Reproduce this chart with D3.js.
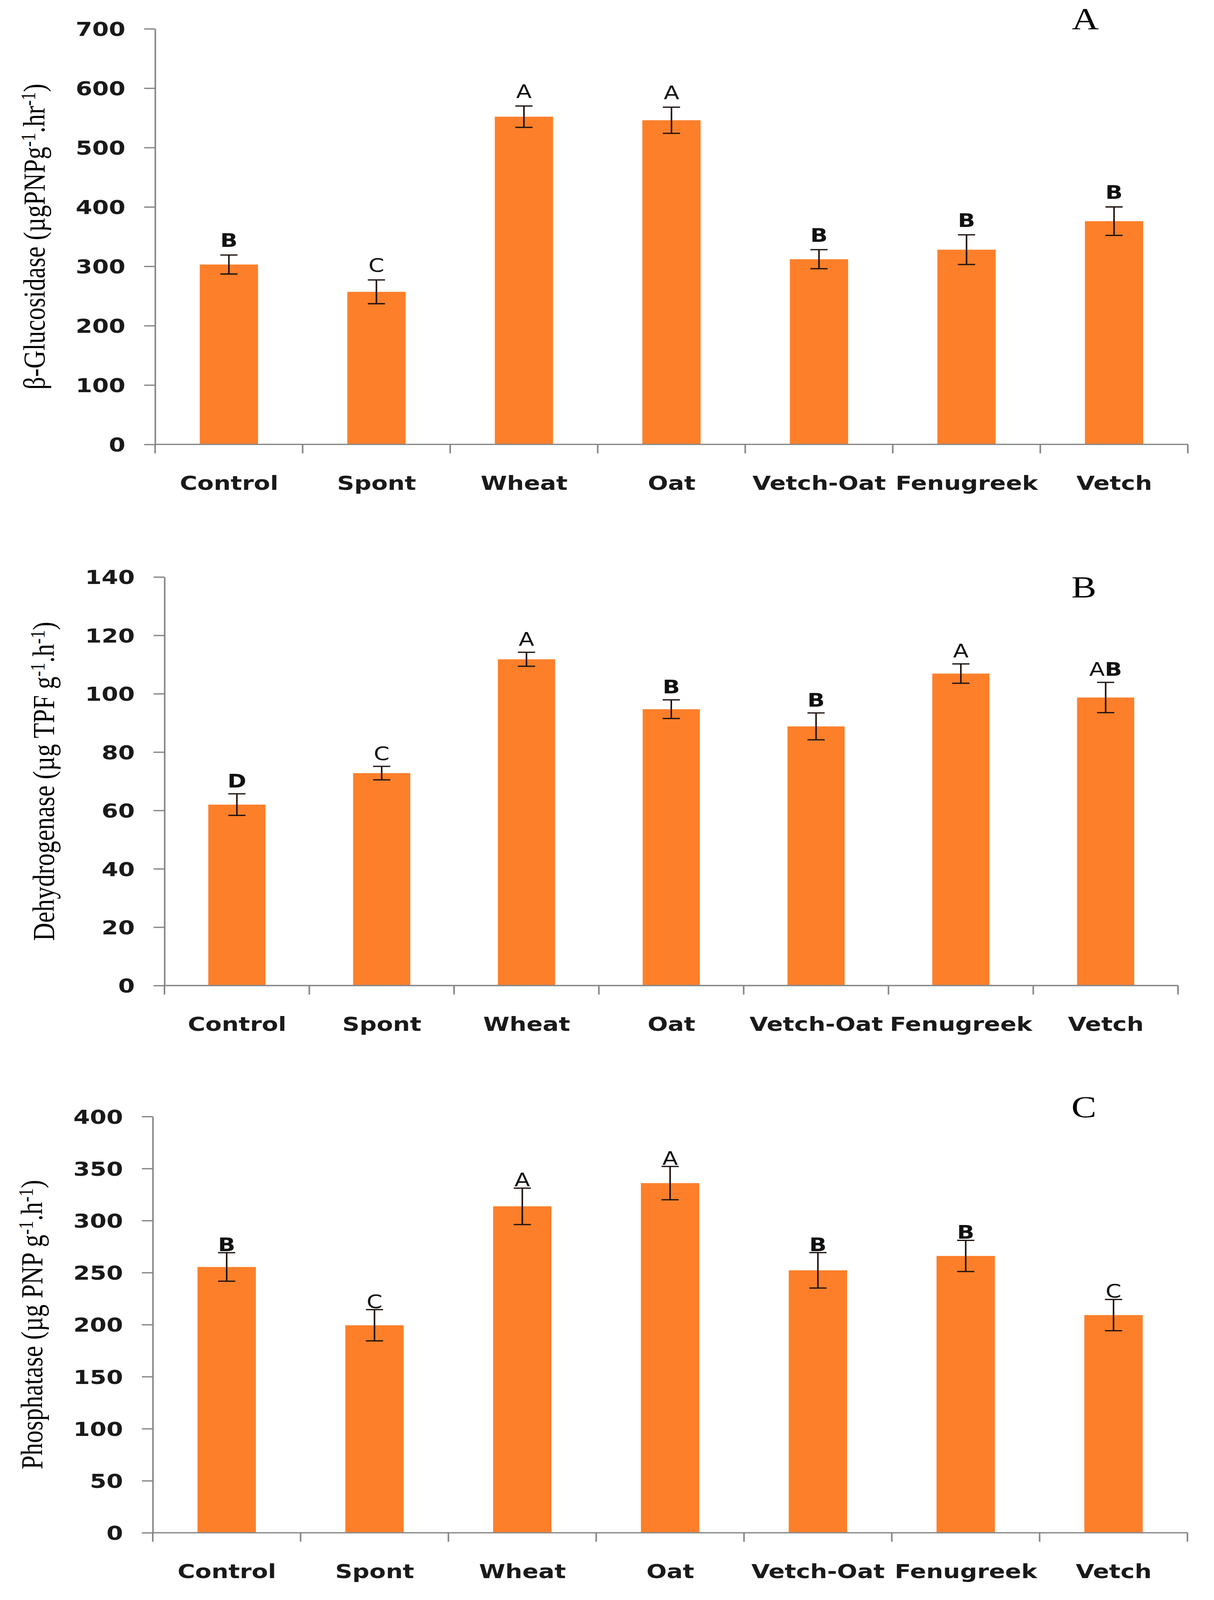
<!DOCTYPE html>
<html>
<head>
<meta charset="utf-8">
<script src="https://cdn.jsdelivr.net/npm/d3@7"></script>
<style>
  html, body { margin: 0; padding: 0; background: #ffffff; overflow: hidden; }
  svg { display: block; width: 100vw; height: 100vh; }
</style>
</head>
<body>
<svg id="chart" viewBox="0 0 3107 4997" preserveAspectRatio="none"></svg>
<script>
// ---------------- DATA ----------------
const categories = ["Control", "Spont", "Wheat", "Oat", "Vetch-Oat", "Fenugreek", "Vetch"];

const glucosidaseValues  = [303, 257, 552, 546, 312, 328, 376];
const glucosidaseErrors  = [16, 20, 18, 22, 16, 25, 24];
const glucosidaseLetters = ["B", "C", "A", "A", "B", "B", "B"];
const glucosidaseTicks   = [0, 100, 200, 300, 400, 500, 600, 700];

const dehydrogenaseValues  = [62.0, 72.8, 111.8, 94.7, 88.8, 106.9, 98.7];
const dehydrogenaseErrors  = [3.7, 2.3, 2.4, 3.2, 4.6, 3.3, 5.2];
const dehydrogenaseLetters = ["D", "C", "A", "B", "B", "A", "AB"];
const dehydrogenaseTicks   = [0, 20, 40, 60, 80, 100, 120, 140];

const phosphataseValues  = [255.4, 199.4, 313.7, 336.0, 252.2, 266.0, 209.2];
const phosphataseErrors  = [13.7, 15.0, 17.5, 16.0, 17.0, 15.0, 15.0];
const phosphataseLetters = ["B", "C", "A", "A", "B", "B", "C"];
const phosphataseTicks   = [0, 50, 100, 150, 200, 250, 300, 350, 400];

// y-axis titles: [main text, sup, middle text, sup, closing]
const glucosidaseTitle   = ["β-Glucosidase (µgPNPg", "-1", ".hr", "-1", ")"];
const dehydrogenaseTitle = ["Dehydrogenase (µg TPF g", "-1", ".h", "-1", ")"];
const phosphataseTitle   = ["Phosphatase (µg PNP g", "-1", ".h", "-1", ")"];

const panelLetters = ["A", "B", "C"];

// ---------------- LAYOUT / STYLE ----------------
const panels = [
  { values: glucosidaseValues, errors: glucosidaseErrors, letters: glucosidaseLetters, ticks: glucosidaseTicks,
    title: glucosidaseTitle, letter: panelLetters[0],
    left: 397, right: 3040, top: 90, bottom: 1388, letterGap: 25, letterX: 2743, letterY: 90 },
  { values: dehydrogenaseValues, errors: dehydrogenaseErrors, letters: dehydrogenaseLetters, ticks: dehydrogenaseTicks,
    title: dehydrogenaseTitle, letter: panelLetters[1],
    left: 421, right: 3015, top: 1802, bottom: 3078, letterGap: 20, letterX: 2742, letterY: 1865 },
  { values: phosphataseValues, errors: phosphataseErrors, letters: phosphataseLetters, ticks: phosphataseTicks,
    title: phosphataseTitle, letter: panelLetters[2],
    left: 391, right: 3039, top: 3487, bottom: 4787, letterGap: 5, letterX: 2742, letterY: 3489 }
];

const BAR_COLOR = "#FD7F2A";
const AXIS_COLOR = "#868686";
const ERR_COLOR = "#1f1410";
const SANS = "'DejaVu Sans', Verdana, sans-serif";
const SERIF = "'Liberation Serif', 'Times New Roman', serif";
const TICK_LEN = 28;

const svg = d3.select("#chart");
svg.append("rect").attr("width", 3107).attr("height", 4997).attr("fill", "#ffffff");

panels.forEach(p => {
  const g = svg.append("g");
  const ymax = p.ticks[p.ticks.length - 1];

  const y = d3.scaleLinear().domain([0, ymax]).range([p.bottom, p.top]);
  const x = d3.scaleBand().domain(categories).range([p.left, p.right])
              .paddingInner(0.605).paddingOuter(0.3025);
  const step = x.step();

  // Bars
  g.selectAll("rect.bar").data(categories).enter().append("rect")
    .attr("class", "bar")
    .attr("x", d => x(d))
    .attr("width", x.bandwidth())
    .attr("y", (d, i) => y(p.values[i]))
    .attr("height", (d, i) => y(0) - y(p.values[i]))
    .attr("fill", BAR_COLOR);

  // Y axis
  const yAxis = d3.axisLeft(y).tickValues(p.ticks).tickSize(TICK_LEN).tickSizeOuter(0).tickPadding(48)
                  .tickFormat(d3.format("d"));
  const ya = g.append("g").attr("transform", `translate(${p.left},0)`).call(yAxis);
  ya.select(".domain").attr("stroke", AXIS_COLOR).attr("stroke-width", 4);
  ya.selectAll(".tick line").attr("stroke", AXIS_COLOR).attr("stroke-width", 4);
  ya.selectAll(".tick text")
    .attr("font-family", SANS).attr("font-weight", "bold").attr("font-size", 61)
    .attr("fill", "#1a1a1a").attr("dy", "0.36em");

  // X axis line
  g.append("line")
    .attr("x1", p.left).attr("x2", p.right)
    .attr("y1", y(0)).attr("y2", y(0))
    .attr("stroke", AXIS_COLOR).attr("stroke-width", 4);

  // Boundary ticks
  const bounds = d3.range(categories.length + 1);
  g.selectAll("line.bound").data(bounds).enter().append("line")
    .attr("class", "bound")
    .attr("x1", i => p.left + i * step).attr("x2", i => p.left + i * step)
    .attr("y1", y(0)).attr("y2", y(0) + TICK_LEN)
    .attr("stroke", AXIS_COLOR).attr("stroke-width", 4);

  // Category labels via axisBottom at band centers
  const xc = d3.scalePoint().domain(categories).range([p.left + step / 2, p.right - step / 2]);
  const xa = g.append("g").attr("transform", `translate(0,${y(0)})`)
              .call(d3.axisBottom(xc).tickSize(0).tickPadding(0));
  xa.select(".domain").remove();
  xa.selectAll(".tick text")
    .attr("y", 142).attr("dy", 0)
    .attr("font-family", SANS).attr("font-weight", "bold").attr("font-size", 61)
    .attr("fill", "#1a1a1a");

  // Error bars
  const cx = d => x(d) + x.bandwidth() / 2;
  const eg = g.selectAll("g.err").data(categories).enter().append("g").attr("class", "err");
  eg.append("line")
    .attr("x1", cx).attr("x2", cx)
    .attr("y1", (d, i) => y(p.values[i] + p.errors[i]))
    .attr("y2", (d, i) => y(p.values[i] - p.errors[i]))
    .attr("stroke", ERR_COLOR).attr("stroke-width", 4);
  [1, -1].forEach(s => {
    eg.append("line")
      .attr("x1", d => cx(d) - 22).attr("x2", d => cx(d) + 22)
      .attr("y1", (d, i) => y(p.values[i] + s * p.errors[i]))
      .attr("y2", (d, i) => y(p.values[i] + s * p.errors[i]))
      .attr("stroke", ERR_COLOR).attr("stroke-width", 4);
  });

  // Significance letters
  const lt = g.selectAll("text.sig").data(categories).enter().append("text")
    .attr("class", "sig")
    .attr("x", cx)
    .attr("y", (d, i) => y(p.values[i] + p.errors[i]) - p.letterGap)
    .attr("text-anchor", "middle")
    .attr("font-family", SANS).attr("font-size", 58).attr("fill", "#111");
  lt.each(function(d, i) {
    const t = d3.select(this);
    p.letters[i].split("").forEach(ch => {
      t.append("tspan").text(ch)
        .attr("font-weight", (ch === "B" || ch === "D") ? "bold" : "normal");
    });
  });

  // Y-axis title (rotated)
  const tt = g.append("text")
    .attr("transform", `translate(${p.left - 283},${(p.top + p.bottom) / 2}) rotate(-90)`)
    .attr("text-anchor", "middle")
    .attr("font-family", SERIF).attr("font-size", 78).attr("fill", "#000");
  p.title.forEach((part, k) => {
    const isSup = (k === 1 || k === 3);
    const ts = tt.append("tspan").text(part);
    if (isSup) {
      ts.attr("font-size", 52).attr("dy", -24);
    } else if (k > 0) {
      ts.attr("dy", 24);
    }
  });

  // Panel letter
  g.append("text")
    .attr("x", p.letterX).attr("y", p.letterY)
    .attr("font-family", SERIF).attr("font-size", 96).attr("fill", "#000")
    .text(p.letter);
});
</script>
</body>
</html>
